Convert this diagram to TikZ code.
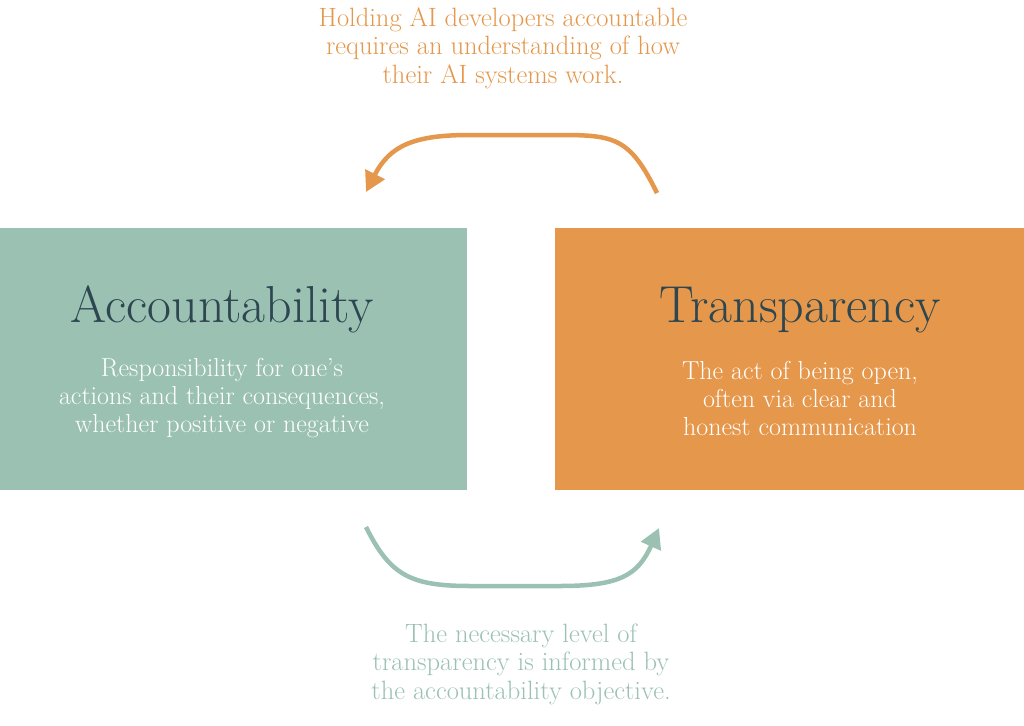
\documentclass[tikz,border=0pt]{standalone}
\usetikzlibrary{arrows.meta}
\definecolor{sage}{HTML}{9BC1B3}
\definecolor{amber}{HTML}{E5974B}
\definecolor{slate}{HTML}{2D4650}
\tikzset{
  box/.style={draw=none, minimum height=262pt, inner sep=0pt, anchor=north west},
  title/.style={text=slate, font=\fontsize{52}{56}\selectfont, anchor=base},
  desc/.style={text=white, font=\fontsize{26}{28}\selectfont, align=center, anchor=center},
  note/.style={font=\fontsize{26.5}{28.5}\selectfont, align=center, anchor=center},
  loop/.style={line width=4.5pt, -{Triangle[length=20pt,width=21pt]}},
}
\begin{document}
\begin{tikzpicture}[x=1pt,y=-1pt]
\useasboundingbox[fill=white] (0,0) rectangle (1024,725);
\node[box, fill=sage, minimum width=467pt] (acc) at (0,228) {};
\node[box, fill=amber, minimum width=469pt] (tra) at (555,228) {};
\node[title] (acct) at (222,322) {Accountability};
\node[title] (trat) at (800,322) {Transparency};
\node[desc] (accd) at (222,398) {Responsibility for one's\\actions and their consequences,\\whether positive or negative};
\node[desc] (trad) at (800,398) {The act of being open,\\often via clear and\\honest communication};
\node[note, text=amber] (topnote) at (503,48) {Holding AI developers accountable\\requires an understanding of how\\their AI systems work.};
\node[note, text=sage] (botnote) at (521,664) {The necessary level of\\transparency is informed by\\the accountability objective.};
\coordinate (ts) at (657,193);
\coordinate (te) at (366,192);
\coordinate (bs) at (366,527);
\coordinate (be) at (659,528);
\draw[loop, draw=amber] (ts) .. controls (630,138) and (615,135) .. (560,135) -- (470,135) .. controls (415,135) and (390,145) .. (te);
\draw[loop, draw=sage] (bs) .. controls (390,575) and (410,586) .. (470,586) -- (560,586) .. controls (620,586) and (638,575) .. (be);
\end{tikzpicture}
\end{document}
